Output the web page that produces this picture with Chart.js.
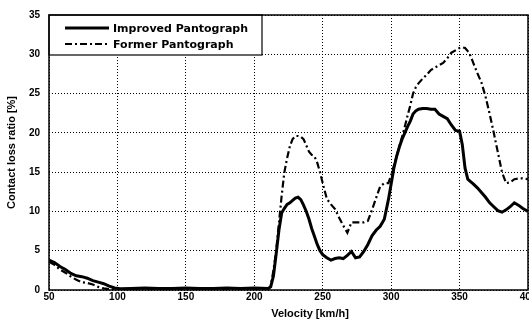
<!DOCTYPE html>
<html>
<head>
<meta charset="utf-8">
<script src="https://cdn.jsdelivr.net/npm/chart.js@4"></script>
<style>
  body { margin: 0; background: #fff; }
  #wrap { width: 529px; height: 325px; }
</style>
</head>
<body>
<div id="wrap"><canvas id="myChart1" width="529" height="325"></canvas></div>
<script>
let velocity = [50,54,58,62,66,70,74,78,82,86,90,94,98,102,
  110,120,130,140,150,160,170,180,190,200,210,
  212,214,216,218,220,222,224,226,228,230,232,234,236,238,240,242,244,246,248,250,
  253,256,259,262,265,268,271,274,277,280,283,286,289,292,295,298,
  300,302,304,306,308,310,312,314,316,318,320,
  323,326,329,332,335,338,341,344,347,350,
  352,354,356,358,360,
  363,366,369,372,375,378,381,384,387,390,393,396,
  400];
let improved = [3.8,3.5,3.0,2.6,2.1,1.8,1.7,1.5,1.2,1.0,0.8,0.5,0.25,0.15,
  0.2,0.25,0.2,0.2,0.25,0.2,0.2,0.25,0.2,0.25,0.2,
  0.4,1.8,4.6,7.6,9.8,10.4,10.9,11.1,11.4,11.7,11.8,11.5,10.8,10.0,9.0,7.8,6.8,5.8,5.0,4.5,
  4.1,3.8,4.0,4.1,4.0,4.4,4.9,4.1,4.2,4.9,5.8,6.9,7.6,8.1,9.0,11.5,
  13.5,15.5,17.0,18.2,19.2,20.0,20.8,21.5,22.4,22.8,23.0,
  23.1,23.1,23.0,23.0,22.4,22.1,21.8,21.0,20.3,20.2,
  18.5,15.5,14.1,13.8,13.5,
  13.0,12.4,11.8,11.1,10.6,10.1,9.9,10.2,10.6,11.1,10.8,10.4,
  10.0];
let former = [3.6,3.2,2.6,2.2,1.7,1.3,1.0,0.9,0.7,0.4,0.2,0.1,0.05,0,
  0,0,0,0,0,0,0,0,0,0,0,
  0.5,2.5,5.0,8.5,12.0,15.0,16.8,18.3,19.2,19.6,19.6,19.5,19.2,18.4,17.6,17.2,17.0,16.2,15.0,13.6,
  11.6,10.9,10.3,9.2,8.2,7.3,8.6,8.6,8.6,8.6,8.8,10.2,11.7,13.2,13.6,13.6,
  14.6,15.8,17.0,18.3,19.5,20.8,22.2,23.5,25.0,25.8,26.3,
  26.9,27.4,28.0,28.3,28.6,28.9,29.5,30.2,30.5,30.8,
  30.9,30.8,30.4,29.8,28.9,
  27.6,26.4,24.6,22.4,20.0,17.5,15.0,13.6,13.7,14.1,14.2,14.2,
  14.1];
let seriesNames = ['Improved Pantograph', 'Former Pantograph'];
let xTitle = 'Velocity [km/h]';
let yTitle = 'Contact loss ratio [%]';

function toPoints(values) {
  return values.map((v, i) => ({ x: velocity[i], y: v }));
}

// legend box, axis titles and frame drawn on top
const extras = {
  id: 'extras',
  afterDraw(chart) {
    const c = chart.ctx;
    const a = chart.chartArea;
    c.save();
    // legend
    c.fillStyle = '#fff';
    c.fillRect(a.left, a.top, 213, 40);
    c.strokeStyle = '#000';
    c.lineWidth = 1.2;
    c.strokeRect(a.left, a.top, 213, 40);
    c.font = 'bold 11px "DejaVu Sans"';
    c.textBaseline = 'middle';
    chart.data.datasets.forEach((ds, i) => {
      const y = a.top + 13 + i * 16;
      c.beginPath();
      c.lineWidth = ds.borderWidth;
      c.setLineDash(ds.borderDash || []);
      c.moveTo(a.left + 16, y);
      c.lineTo(a.left + 60, y);
      c.stroke();
      c.setLineDash([]);
      c.fillStyle = '#000';
      c.fillText(ds.label, a.left + 64, y + 1);
    });
    // frame
    c.lineWidth = 1.5;
    c.strokeRect(a.left, a.top, a.right - a.left, a.bottom - a.top);
    // titles
    c.fillStyle = '#000';
    c.font = 'bold 11px "Liberation Sans"';
    c.textAlign = 'center';
    c.textBaseline = 'middle';
    c.fillText(xTitle, 310, 314);
    c.translate(12, (a.top + a.bottom) / 2);
    c.rotate(-Math.PI / 2);
    c.fillText(yTitle, 0, 0);
    c.restore();
  }
};

let ctx = document.getElementById('myChart1').getContext('2d');
let myChart1 = new Chart(ctx, {
  type: 'line',
  data: {
    datasets: [{
      label: seriesNames[0],
      data: toPoints(improved),
      borderColor: '#000',
      borderWidth: 3,
      pointRadius: 0,
      tension: 0
    }, {
      label: seriesNames[1],
      data: toPoints(former),
      borderColor: '#000',
      borderWidth: 2.2,
      borderDash: [7, 3, 2, 3],
      pointRadius: 0,
      tension: 0
    }]
  },
  options: {
    responsive: false,
    animation: false,
    devicePixelRatio: 1,
    layout: { padding: { top: 13, right: 1, left: 0, bottom: 0 } },
    plugins: {
      legend: { display: false },
      tooltip: { enabled: false }
    },
    scales: {
      x: {
        type: 'linear',
        min: 50,
        max: 400,
        ticks: {
          stepSize: 50,
          color: '#000',
          padding: 1,
          maxRotation: 0,
          font: { family: 'Liberation Sans', weight: 'bold', size: 10 }
        },
        grid: { color: '#000', lineWidth: 1, drawTicks: false },
        border: { display: false, dash: [1, 2] },
        afterFit: (s) => { s.height = 35; s.paddingLeft = 0; s.paddingRight = 0; }
      },
      y: {
        min: 0,
        max: 35,
        ticks: {
          stepSize: 5,
          color: '#000',
          padding: 9,
          font: { family: 'Liberation Sans', weight: 'bold', size: 10 }
        },
        grid: { color: '#000', lineWidth: 1, drawTicks: false },
        border: { display: false, dash: [1, 2] },
        afterFit: (s) => { s.width = 49; }
      }
    }
  },
  plugins: [extras]
});
</script>
</body>
</html>
